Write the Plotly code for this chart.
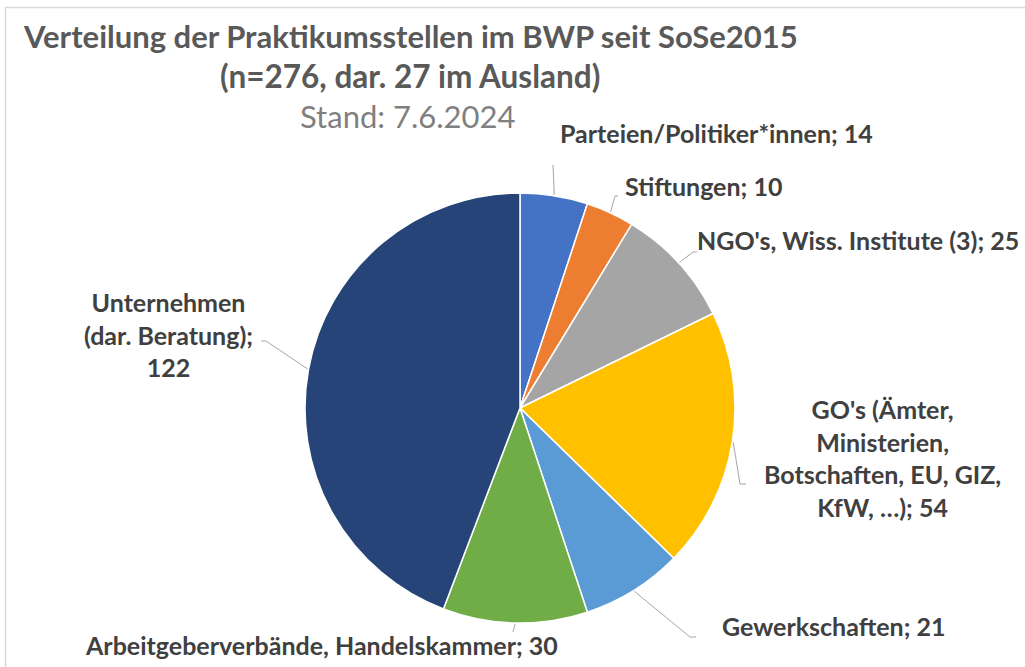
import math
import plotly.graph_objects as go

categories = [
    "Parteien/Politiker*innen",
    "Stiftungen",
    "NGO's, Wiss. Institute (3)",
    "GO's (Ämter, Ministerien, Botschaften, EU, GIZ, KfW, …)",
    "Gewerkschaften",
    "Arbeitgeberverbände, Handelskammer",
    "Unternehmen (dar. Beratung)",
]
values = [14, 10, 25, 54, 21, 30, 122]
colors = ["#4472C4", "#ED7D31", "#A5A5A5", "#FFC000", "#5B9BD5", "#70AD47", "#264478"]
label_texts = [
    "Parteien/Politiker*innen; 14",
    "Stiftungen; 10",
    "NGO's, Wiss. Institute (3); 25",
    "GO's (Ämter,<br>Ministerien,<br>Botschaften, EU, GIZ,<br>KfW, …); 54",
    "Gewerkschaften; 21",
    "Arbeitgeberverbände, Handelskammer; 30",
    "Unternehmen<br>(dar. Beratung);<br>122",
]

W, H = 1025, 667
CX, CY, R = 520, 408, 215

def px(x):
    return x / W

def py(y):
    return 1 - y / H

# label layout: (x, y, xanchor, leader knee, leader end)
label_layout = [
    (558, 133, "left", (553, 165), (553, 165)),
    (623, 186, "left", (615, 196), (618, 196)),
    (695, 240, "left", (693, 252), (697, 252)),
    (882, 458, "center", (740, 484), (746, 484)),
    (720, 626, "left", (690, 637), (696, 637)),
    (83, 645, "left", (513, 632), (513, 632)),
    (168, 334, "center", (266, 341), (261, 341)),
]

FONT = "Lato"
LABEL_SIZE = 25
fig = go.Figure()
fig.add_trace(go.Pie(
    labels=categories,
    values=values,
    sort=False,
    direction="clockwise",
    rotation=0,
    marker=dict(colors=colors, line=dict(color="white", width=1.5)),
    textinfo="none",
    hoverinfo="label+value",
    showlegend=False,
    domain=dict(x=[px(CX - R), px(CX + R)], y=[py(CY + R), py(CY - R)]),
))

total = sum(values)
shapes = [dict(type="rect", xref="paper", yref="paper",
               x0=px(5.5), y0=py(H + 20), x1=px(W + 20), y1=py(7.5),
               line=dict(color="#D9D9D9", width=1.5), fillcolor="rgba(0,0,0,0)")]
annotations = []
cum = 0
for v, txt, (lx, ly, anc, knee, end) in zip(values, label_texts, label_layout):
    mid = (cum + v / 2) / total * 2 * math.pi
    cum += v
    sx = CX + (R + 1) * math.sin(mid)
    sy = CY - (R + 1) * math.cos(mid)
    path = f"M {px(sx)} {py(sy)} L {px(knee[0])} {py(knee[1])} L {px(end[0])} {py(end[1])}"
    shapes.append(dict(type="path", xref="paper", yref="paper", path=path,
                       line=dict(color="#A6A6A6", width=1)))
    annotations.append(dict(
        x=px(lx), y=py(ly), xref="paper", yref="paper", text=txt,
        showarrow=False, xanchor=anc, yanchor="middle", align="center",
        font=dict(family=FONT, size=LABEL_SIZE, color="#404040", weight="bold"),
    ))

annotations += [
    dict(x=px(410), y=py(36), xref="paper", yref="paper", showarrow=False,
         text="Verteilung der Praktikumsstellen im BWP seit SoSe2015",
         font=dict(family=FONT, size=31, color="#595959", weight="bold"), xanchor="center", yanchor="middle"),
    dict(x=px(410), y=py(76), xref="paper", yref="paper", showarrow=False,
         text="(n=276, dar. 27 im Ausland)",
         font=dict(family=FONT, size=31.5, color="#595959", weight="bold"), xanchor="center", yanchor="middle"),
    dict(x=px(408), y=py(116), xref="paper", yref="paper", showarrow=False,
         text="Stand: 7.6.2024",
         font=dict(family=FONT, size=31, color="#7F7F7F"), xanchor="center", yanchor="middle"),
]

fig.update_layout(
    width=W, height=H,
    margin=dict(l=0, r=0, t=0, b=0),
    paper_bgcolor="white", plot_bgcolor="white",
    shapes=shapes, annotations=annotations,
)
fig.write_html("out.html", config={"displayModeBar": False},
               post_script="document.body.style.margin='0';document.body.style.overflow='hidden';")
